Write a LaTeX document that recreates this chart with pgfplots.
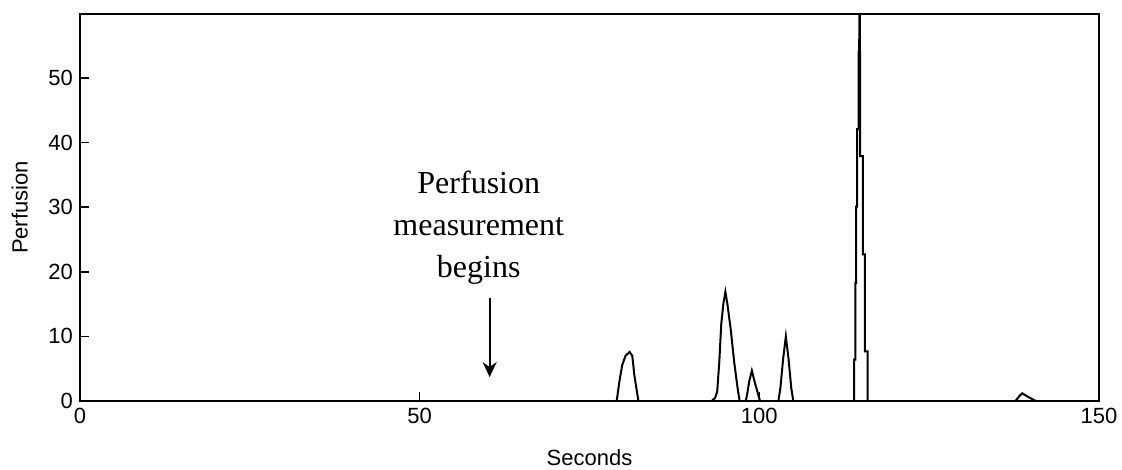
\documentclass[border=0pt]{standalone}
\usepackage{pgfplots}
\pgfplotsset{compat=1.18}
\usepackage{fontspec}
\setmainfont{Liberation Sans}
\newfontfamily\seriffont{Liberation Serif}
\usetikzlibrary{arrows.meta}
\begin{document}
\begin{tikzpicture}
\begin{axis}[
  scale only axis,
  width=509.5pt, height=193.5pt,
  xmin=0, xmax=150, ymin=0, ymax=59.9,
  xtick={0,50,100,150}, ytick={0,10,20,30,40,50},
  tick align=inside, xtick pos=left, ytick pos=left,
  major tick length=4.5pt,
  axis line style={line width=0.9pt},
  tick style={line width=0.8pt, black},
  tick label style={font=\fontsize{11}{13}\selectfont},
  label style={font=\fontsize{11}{13}\selectfont},
  /pgf/number format/assume math mode=true,
  xlabel={Seconds}, ylabel={Perfusion},
  xlabel style={yshift=-6pt},
  ylabel style={yshift=3.5pt},
]
\addplot[black, line width=1pt] coordinates {
(0,0) (79.0,0) (79.4,3) (79.8,5.5) (80.3,7) (80.9,7.6) (81.3,7) (81.6,4) (82.2,0)
(93.0,0) (93.5,0.5) (93.8,1.5) (94.1,6) (94.4,12) (94.7,15) (95.0,16.9) (95.3,15) (95.8,11) (96.3,6) (96.8,2) (97.1,0)
(98.0,0) (98.2,1) (98.5,3) (98.9,4.7) (99.3,3) (99.7,1.5) (100.1,0)
(102.8,0) (103.1,2) (103.5,6.5) (103.9,10) (104.3,6.5) (104.7,2) (105.0,0)
(113.97,0) (113.97,6.4) (114.12,6.4) (114.12,18.3) (114.26,18.3) (114.26,30.1) (114.41,30.1) (114.41,42.1) (114.6,42.1) (114.6,54) (114.7,54) (114.75,70) (114.8,54) (114.85,54) (114.85,37.9) (115.25,37.9) (115.25,22.7) (115.54,22.7) (115.54,7.7) (115.93,7.7) (115.93,0)
(137.7,0) (138.3,0.8) (138.7,1.2) (139.3,0.8) (140.7,0) (150,0)
};
\node[font=\seriffont\fontsize{16}{21}\selectfont, align=center, anchor=north, inner sep=0pt]
  at (axis cs:58.7,35.6) {Perfusion\\measurement\\begins};
\draw[line width=0.9pt, -{Stealth[length=7.5pt,width=7pt]}] (axis cs:60.3,16) -- (axis cs:60.3,3.7);
\end{axis}
\pgfresetboundingbox
\path[use as bounding box] ([shift={(-40pt,-34pt)}]current axis.south west) rectangle ([shift={(11.5pt,7pt)}]current axis.north east);
\end{tikzpicture}
\end{document}
